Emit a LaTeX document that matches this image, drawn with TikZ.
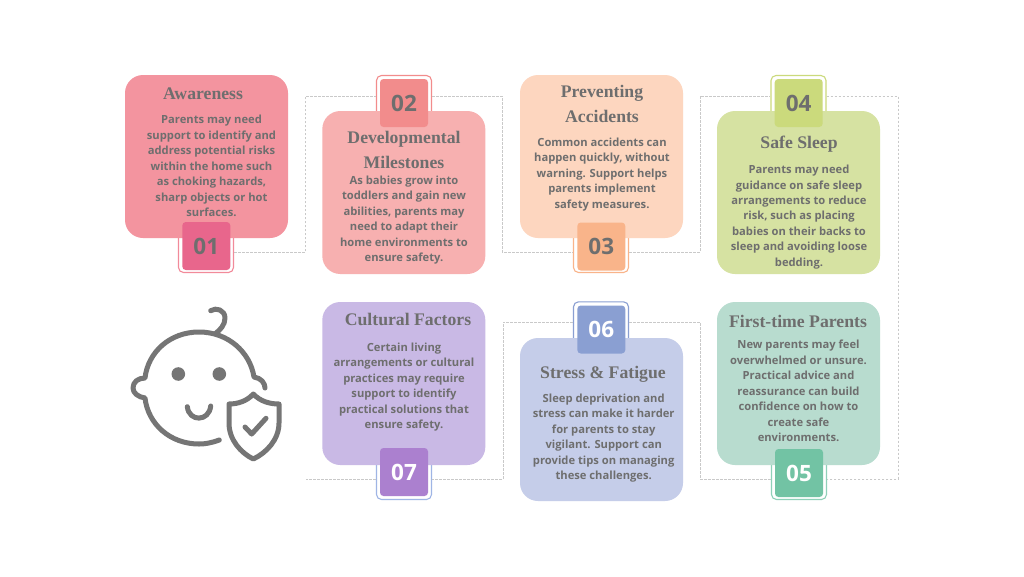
\documentclass[tikz,border=0pt]{standalone}
\usepackage{fontspec}
\setmainfont{Liberation Serif}
\newfontfamily\bodyf{Open Sans}
\newfontfamily\titlef{Liberation Serif}
\usetikzlibrary{calc}
\definecolor{txt}{HTML}{6E6E6E}
\definecolor{ico}{HTML}{757575}
\definecolor{dashc}{HTML}{C9C9C9}
\definecolor{cA}{HTML}{F3949F}\definecolor{bA}{HTML}{E8668C}\definecolor{oA}{HTML}{F28A9A}
\definecolor{cB}{HTML}{F7B0B0}\definecolor{bB}{HTML}{F28C8C}\definecolor{oB}{HTML}{F28C8C}
\definecolor{cC}{HTML}{FDD6BF}\definecolor{bC}{HTML}{F9B48A}\definecolor{oC}{HTML}{F9B48A}
\definecolor{cD}{HTML}{D6E2A2}\definecolor{bD}{HTML}{CBDA7C}\definecolor{oD}{HTML}{CBDA7C}
\definecolor{cE}{HTML}{B8DCCF}\definecolor{bE}{HTML}{72C3A4}\definecolor{oE}{HTML}{8FD0B8}
\definecolor{cF}{HTML}{C5CDE9}\definecolor{bF}{HTML}{8A9FD2}\definecolor{oF}{HTML}{8A9FD2}
\definecolor{cG}{HTML}{C9B9E5}\definecolor{bG}{HTML}{AB80CF}\definecolor{oG}{HTML}{9FB5E5}
\tikzset{
  card/.style={draw=none,rounded corners=18pt,minimum width=163pt,minimum height=163pt,inner sep=0,anchor=center},
  badge/.style={rounded corners=3.5pt,minimum width=48pt,minimum height=48pt,inner sep=0,anchor=center,font=\bodyf\bfseries\fontsize{22.5}{24}\selectfont},
  ring/.style={fill=white,line width=1.1pt,rounded corners=5pt,minimum width=55pt,minimum height=41pt,inner sep=0,anchor=center},
  title/.style={text=txt,align=center,inner sep=0,anchor=center,font=\titlef\bfseries\fontsize{17.7}{24.5}\selectfont},
  body/.style={text=txt,align=center,inner sep=0,anchor=center,font=\bodyf\bfseries\fontsize{11.2}{15.45}\selectfont},
  link/.style={draw=dashc,line width=1pt,dash pattern=on 2.5pt off 1.5pt},
  icon/.style={draw=ico,line width=5pt,line cap=round,line join=round}
}
\begin{document}
\begin{tikzpicture}[x=1pt,y=-1pt]
\useasboundingbox[fill=white] (0,0) rectangle (1024,576);
% rings
\node[ring,draw=oA] (r1) at (206,252) {};
\node[ring,draw=oB] (r2) at (404,96) {};
\node[ring,draw=oC] (r3) at (601,252) {};
\node[ring,draw=oD] (r4) at (798.5,96) {};
\node[ring,draw=oE] (r5) at (799,479) {};
\node[ring,draw=oF] (r6) at (601,322.3) {};
\node[ring,draw=oG] (r7) at (404,479) {};
% connectors
\coordinate (c1) at (305.5,0);
\coordinate (c2) at (502,0);
\coordinate (c3) at (700,0);
\coordinate (c4) at (898,0);
\coordinate (c6) at (503,0);
\coordinate (e7) at (306,479);
\draw[link] (r1.east) -- (c1 |- r1.east) -- (c1 |- r2.west) -- (r2.west);
\draw[link] (r2.east) -- (c2 |- r2.east) -- (c2 |- r3.west) -- (r3.west);
\draw[link] (r3.east) -- (c3 |- r3.east) -- (c3 |- r4.west) -- (r4.west);
\draw[link] (r4.east) -- (c4 |- r4.east) -- (c4 |- r5.east) -- (r5.east);
\draw[link] (r5.west) -- (c3 |- r5.west) -- (c3 |- r6.east) -- (r6.east);
\draw[link] (r6.west) -- (c6 |- r6.west) -- (c6 |- r7.east) -- (r7.east);
\draw[link] (r7.west) -- (e7);
% cards
\node[card,fill=cA] (k1) at (206.5,156.5) {};
\node[card,fill=cB] (k2) at (403.8,192.5) {};
\node[card,fill=cC] (k3) at (601.5,156.5) {};
\node[card,fill=cD] (k4) at (798.5,192.5) {};
\node[card,fill=cE] (k5) at (798.5,383.5) {};
\node[card,fill=cF] (k6) at (601.5,419.5) {};
\node[card,fill=cG] (k7) at (403.8,383.5) {};
% badges
\node[badge,fill=bA,text=txt] (b1) at (206.3,246) {01};
\node[badge,fill=bB,text=txt] (b2) at (404,103) {02};
\node[badge,fill=bC,text=txt] (b3) at (601.3,246.5) {03};
\node[badge,fill=bD,text=txt] (b4) at (798.7,103) {04};
\node[badge,fill=bE,text=white] (b5) at (799,473) {05};
\node[badge,fill=bF,text=white] (b6) at (601.3,329.5) {06};
\node[badge,fill=bG,text=white] (b7) at (404,472) {07};
% titles
\node[title] (t1) at (203,94) {Awareness};
\node[title] (t2) at (404,150) {Developmental\\Milestones};
\node[title] (t3) at (602,104) {Preventing\\Accidents};
\node[title] (t4) at (799,144) {Safe Sleep};
\node[title] (t5) at (798,321) {First-time Parents};
\node[title] (t6) at (603,374.5) {Stress \& Fatigue};
\node[title] (t7) at (408,319.5) {Cultural Factors};
% bodies
\node[body] (d1) at (211.5,166) {Parents may need\\support to identify and\\address potential risks\\within the home such\\as choking hazards,\\sharp objects or hot\\surfaces.};
\node[body] (d2) at (404,220) {As babies grow into\\toddlers and gain new\\abilities, parents may\\need to adapt their\\home environments to\\ensure safety.};
\node[body] (d3) at (602,174.5) {Common accidents can\\happen quickly, without\\warning. Support helps\\parents implement\\safety measures.};
\node[body] (d4) at (799,217) {Parents may need\\guidance on safe sleep\\arrangements to reduce\\risk, such as placing\\babies on their backs to\\sleep and avoiding loose\\bedding.};
\node[body] (d5) at (798.5,391) {New parents may feel\\overwhelmed or unsure.\\Practical advice and\\reassurance can build\\confidence on how to\\create safe\\environments.};
\node[body] (d6) at (603.7,438) {Sleep deprivation and\\stress can make it harder\\for parents to stay\\vigilant. Support can\\provide tips on managing\\these challenges.};
\node[body] (d7) at (404,387) {Certain living\\arrangements or cultural\\practices may require\\support to identify\\practical solutions that\\ensure safety.};
% icon
\draw[icon] (219.3,440) .. controls (211,443) and (205,444) .. (199,444) .. controls (170,444) and (148,424) .. (145,398)
  .. controls (138,397) and (133,393) .. (133,388) .. controls (133,382) and (138,378) .. (145,378)
  .. controls (148,352) and (170,332) .. (199,332) .. controls (228,332) and (250,352) .. (254,377)
  .. controls (261,378) and (265,383) .. (265,388);
\draw[icon] (210.7,310.7) .. controls (216,307) and (225,310) .. (225,318) .. controls (225,325) and (220,330) .. (216,333);
\fill[ico] (178.3,374) circle (6.8pt) (219.3,374) circle (6.8pt);
\draw[icon] (187.3,406.7) .. controls (189,422) and (209,422) .. (210.7,406);
\draw[icon] (253.3,394) .. controls (247,401) and (238,404) .. (229,404) -- (229,423)
  .. controls (229,440) and (241,453) .. (253.3,459) .. controls (266,453) and (279,440) .. (279,423) -- (279,404)
  .. controls (269,404) and (260,401) .. (253.3,394) -- cycle;
\draw[icon] (245,427) -- (251.7,434) -- (266,418.3);
\end{tikzpicture}
\end{document}
